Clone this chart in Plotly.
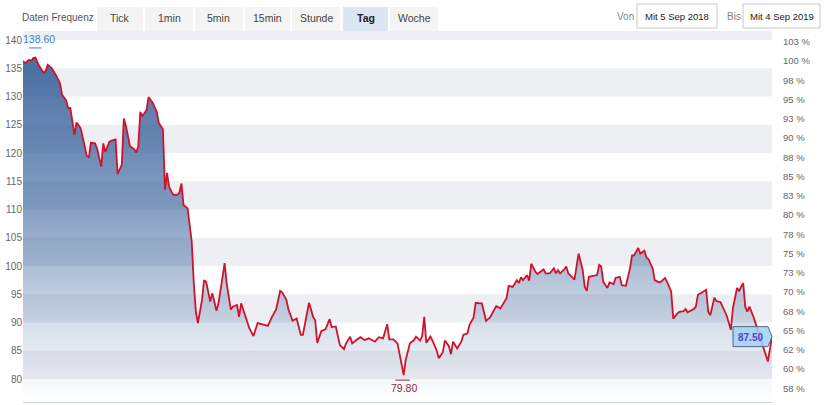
import plotly.graph_objects as go
import pandas as pd

# ---------------- data ----------------
start_date = "2018-09-05"
end_date = "2019-09-04"

# calendar-day offsets from start_date
days = [0, 1, 3, 4, 5, 6, 8, 10, 11, 12,
        14, 16, 18, 19, 21, 22, 23, 24, 25, 26,
        28, 29, 31, 32, 33, 35, 36, 38, 39, 40,
        42, 43, 45, 46, 48, 49, 50, 52, 54, 55,
        56, 57, 58, 60, 61, 63, 65, 66, 68, 69,
        70, 71, 73, 75, 76, 77, 78, 80, 81, 82,
        83, 84, 85, 87, 88, 89, 91, 92, 94, 95,
        98, 99, 101, 102, 104, 105, 106, 108, 110, 112,
        114, 116, 119, 121, 123, 125, 126, 128, 129, 131,
        133, 135, 136, 139, 141, 142, 143, 145, 147, 149,
        150, 152, 154, 156, 157, 159, 160, 162, 164, 166,
        168, 171, 173, 175, 177, 178, 180, 182, 183, 185,
        186, 188, 190, 191, 193, 194, 195, 196, 198, 199,
        201, 202, 204, 205, 207, 208, 209, 211, 213, 214,
        216, 217, 219, 220, 222, 223, 225, 227, 228, 230,
        232, 233, 235, 236, 238, 240, 241, 242, 243, 245,
        246, 247, 249, 250, 253, 254, 256, 258, 259, 260,
        261, 263, 264, 265, 267, 268, 270, 272, 273, 274,
        275, 277, 279, 280, 281, 282, 284, 285, 287, 288,
        290, 291, 293, 295, 296, 297, 298, 299, 300, 302,
        303, 304, 306, 307, 309, 310, 312, 313, 315, 316,
        318, 319, 321, 322, 323, 326, 327, 328, 330, 332,
        333, 334, 336, 337, 339, 340, 342, 344, 345, 347,
        348, 350, 351, 352, 353, 355, 356, 358, 360, 361,
        362, 364]

close = [136.3, 135.9, 136.5, 136.3, 136.8, 136.9, 135.3, 134.2, 134.5, 135.6,
         135.0, 133.8, 132.3, 130.3, 129.3, 127.9, 128.0, 125.8, 123.2, 125.4,
         124.4, 122.8, 119.5, 119.2, 121.8, 121.7, 120.8, 117.6, 121.7, 120.2,
         122.0, 122.2, 122.4, 116.3, 117.9, 126.1, 124.8, 121.2, 120.7, 120.1,
         121.1, 127.3, 126.5, 127.6, 129.9, 128.9, 127.3, 125.3, 124.2, 113.5,
         116.5, 114.0, 112.6, 112.6, 113.0, 114.6, 110.8, 110.2, 107.0, 104.3,
         96.9, 91.9, 89.9, 94.0, 97.5, 97.2, 93.7, 95.2, 92.1, 93.4,
         100.5, 96.9, 92.3, 92.8, 93.1, 91.0, 93.4, 91.0, 89.0, 87.6,
         89.9, 89.7, 89.4, 91.0, 92.3, 95.6, 95.3, 94.0, 92.3, 90.3,
         90.7, 87.8, 87.8, 93.5, 91.0, 90.4, 86.4, 88.5, 88.8, 90.6,
         89.2, 89.3, 86.0, 85.3, 86.3, 87.5, 86.3, 86.9, 87.4, 86.9,
         87.2, 86.6, 87.4, 87.2, 89.7, 87.0, 87.0, 86.3, 84.5, 80.7,
         83.4, 86.3, 86.9, 87.5, 86.8, 87.6, 91.0, 86.4, 87.5, 86.8,
         85.1, 83.7, 84.7, 86.8, 85.8, 84.4, 86.6, 85.4, 86.6, 87.8,
         88.1, 89.6, 90.9, 93.5, 93.4, 93.4, 90.3, 90.9, 91.6, 92.9,
         92.5, 93.1, 94.3, 96.5, 96.3, 97.5, 97.0, 98.0, 97.5, 98.4,
         97.4, 100.4, 99.0, 98.6, 99.4, 98.7, 98.7, 99.6, 98.7, 99.3,
         98.7, 99.4, 99.9, 98.7, 98.0, 97.6, 102.2, 99.3, 96.3, 95.6,
         98.1, 98.3, 98.4, 100.2, 99.9, 97.2, 96.1, 97.1, 96.8, 97.9,
         98.1, 96.6, 96.5, 99.6, 101.9, 101.9, 102.5, 103.2, 102.2, 102.7,
         101.5, 101.2, 99.6, 97.5, 97.1, 97.2, 97.9, 97.2, 95.5, 90.7,
         91.6, 91.9, 92.0, 92.4, 91.8, 92.4, 92.8, 94.9, 95.3, 95.8,
         91.9, 91.3, 94.4, 93.8, 93.6, 92.8, 91.2, 88.7, 92.5, 96.1,
         95.6, 97.0, 92.8, 91.9, 92.8, 91.0, 89.9, 87.8, 85.4, 84.1,
         83.1, 87.5]

base_close = 136.3          # 100 % reference
high_label = 138.60
low_label = 79.80
last_label = 87.50

left_ticks = [80, 85, 90, 95, 100, 105, 110, 115, 120, 125, 130, 135, 140]
pct_ticks = [57.5, 60, 62.5, 65, 67.5, 70, 72.5, 75, 77.5, 80, 82.5, 85, 87.5,
             90, 92.5, 95, 97.5, 100, 102.5]
pct_text = ["58 %", "60 %", "62 %", "65 %", "68 %", "70 %", "73 %", "75 %", "78 %",
            "80 %", "83 %", "85 %", "88 %", "90 %", "93 %", "95 %", "98 %", "100 %",
            "103 %"]
band_lows = [80, 90, 100, 110, 120, 130, 140]

freq_label = "Daten Frequenz"
buttons = ["Tick", "1min", "5min", "15min", "Stunde", "Tag", "Woche"]
active_button = "Tag"
von_label, von_date = "Von", "Mit 5 Sep 2018"
bis_label, bis_date = "Bis", "Mit 4 Sep 2019"

# ---------------- figure ----------------
W, H = 830, 405
ML, MR, MT, MB = 23, 58, 31, 3
PW, PH = W - ML - MR, H - MT - MB
Y_MIN, Y_MAX = 75.93, 141.6
FONT = "Liberation Sans, Arial, sans-serif"


def fx(px):
    return (px - ML) / PW


def fy(py):
    return (H - MB - py) / PH


dates = pd.Timestamp(start_date) + pd.to_timedelta(days, unit="D")
ser = pd.Series(close, index=dates)
hi_date = ser.idxmax()
lo_date = ser.idxmin()

fig = go.Figure()

fig.add_trace(go.Scatter(
    x=dates, y=close, mode="lines",
    line=dict(color="#d0122d", width=1.8),
    fill="tozeroy",
    fillgradient=dict(
        type="vertical", start=Y_MIN, stop=Y_MAX,
        colorscale=[[0.0, "rgba(45,90,150,0.0)"],
                    [0.062, "rgba(45,90,150,0.05)"],
                    [0.214, "rgba(45,90,150,0.20)"],
                    [0.367, "rgba(45,90,150,0.40)"],
                    [0.519, "rgba(45,90,150,0.58)"],
                    [1.0, "rgba(45,90,150,0.92)"]]),
    hoverinfo="skip", showlegend=False))

# invisible trace to carry the percent axis
fig.add_trace(go.Scatter(
    x=[dates[0], dates[-1]], y=[Y_MIN / base_close * 100, Y_MAX / base_close * 100],
    yaxis="y2", mode="lines", line=dict(width=0), opacity=0,
    hoverinfo="skip", showlegend=False))

shapes = []
for lo in band_lows:
    shapes.append(dict(type="rect", xref="paper", yref="y", x0=0, x1=1,
                       y0=lo, y1=min(lo + 5, Y_MAX), fillcolor="#eeeff2",
                       line=dict(width=0), layer="below"))

# high / low markers
shapes.append(dict(type="line", xref="x", yref="y",
                   x0=hi_date - pd.Timedelta(days=3), x1=hi_date + pd.Timedelta(days=3),
                   y0=high_label, y1=high_label, line=dict(color="#3b7fc1", width=1)))
shapes.append(dict(type="line", xref="x", yref="y",
                   x0=lo_date - pd.Timedelta(days=4), x1=lo_date + pd.Timedelta(days=3),
                   y0=low_label, y1=low_label, line=dict(color="#8b2b3c", width=1)))

# last value label (pentagon)
body_w, tip_w = 35 / PW, 4 / PW
half_h = 10 / 5.65
lx0, lx1, ltip = 1 - tip_w - body_w, 1 - tip_w, 1.0
path = (f"M {lx0},{last_label + half_h} L {lx1},{last_label + half_h} "
        f"L {ltip},{last_label} L {lx1},{last_label - half_h} "
        f"L {lx0},{last_label - half_h} Z")
shapes.append(dict(type="path", xref="paper", yref="y", path=path,
                   fillcolor="rgba(160,210,245,0.85)",
                   line=dict(color="#50667d", width=1), layer="above"))

annotations = [
    dict(text=f"{high_label:.2f}", x=hi_date, y=high_label, xref="x", yref="y",
         xanchor="center", yanchor="bottom", xshift=4, yshift=1, showarrow=False,
         font=dict(family=FONT, size=10.5, color="#3b7fc1")),
    dict(text=f"{low_label:.2f}", x=lo_date, y=low_label, xref="x", yref="y",
         xanchor="center", yanchor="top", yshift=0, showarrow=False,
         font=dict(family=FONT, size=10.5, color="#8b2b3c")),
    dict(text=f"<b>{last_label:.2f}</b>", x=(lx0 + lx1) / 2, y=last_label - 0.2,
         xref="paper", yref="y", xanchor="center", yanchor="middle",
         showarrow=False, font=dict(family=FONT, size=10, color="#5c3dcc")),
]

# ---- top toolbar ----
annotations.append(dict(text=freq_label, x=fx(58), y=fy(17), xref="paper", yref="paper",
                        xanchor="center", yanchor="middle", showarrow=False,
                        font=dict(family=FONT, size=10, color="#555555")))
btn_px = [(97, 143), (145, 193), (195, 243), (245, 290), (292, 340), (343, 388), (390, 438)]
for label, (a, b) in zip(buttons, btn_px):
    active = label == active_button
    shapes.append(dict(type="rect", xref="paper", yref="paper",
                       x0=fx(a), x1=fx(b), y0=fy(31), y1=fy(7),
                       fillcolor="#dbe7f3" if active else "#f4f4f4",
                       line=dict(width=0)))
    annotations.append(dict(text=f"<b>{label}</b>" if active else label,
                            x=fx((a + b) / 2), y=fy(18), xref="paper", yref="paper",
                            xanchor="center", yanchor="middle", showarrow=False,
                            font=dict(family=FONT, size=10.5,
                                      color="#222222" if active else "#444444")))

for lab, lab_cx, date_txt, (a, b) in [(von_label, 625, von_date, (637, 717)),
                                       (bis_label, 734, bis_date, (743, 820))]:
    annotations.append(dict(text=lab, x=fx(lab_cx), y=fy(16), xref="paper", yref="paper",
                            xanchor="center", yanchor="middle", showarrow=False,
                            font=dict(family=FONT, size=10, color="#888888")))
    shapes.append(dict(type="rect", xref="paper", yref="paper",
                       x0=fx(a), x1=fx(b), y0=fy(28), y1=fy(4),
                       fillcolor="white", line=dict(color="#c8c8c8", width=1)))
    annotations.append(dict(text=date_txt, x=fx((a + b) / 2), y=fy(16),
                            xref="paper", yref="paper",
                            xanchor="center", yanchor="middle", showarrow=False,
                            font=dict(family=FONT, size=9.5, color="#222222")))

fig.update_layout(
    width=W, height=H, autosize=False,
    margin=dict(l=ML, r=MR, t=MT, b=MB, pad=0, autoexpand=False),
    paper_bgcolor="white", plot_bgcolor="white",
    font=dict(family=FONT, size=10, color="#666666"),
    showlegend=False, hovermode=False,
    xaxis=dict(type="date", range=[start_date, end_date], showticklabels=False,
               showgrid=False, zeroline=False, ticks="", automargin=False,
               showline=True, linecolor="#c9d6d9", linewidth=1),
    yaxis=dict(range=[Y_MIN, Y_MAX], tickvals=left_ticks, showgrid=False,
               zeroline=False, ticks="", automargin=False,
               tickfont=dict(size=10, color="#666666")),
    yaxis2=dict(overlaying="y", side="right",
                range=[Y_MIN / base_close * 100, Y_MAX / base_close * 100],
                tickvals=pct_ticks, ticktext=pct_text, showgrid=False, zeroline=False,
                ticks="", ticklabelstandoff=10, automargin=False,
                tickfont=dict(size=9.5, color="#666666")),
    shapes=shapes, annotations=annotations,
)

fig.write_html(
    "out.html",
    config={"displayModeBar": False, "responsive": False},
    post_script="document.body.style.margin='0';document.body.style.overflow='hidden';",
)
